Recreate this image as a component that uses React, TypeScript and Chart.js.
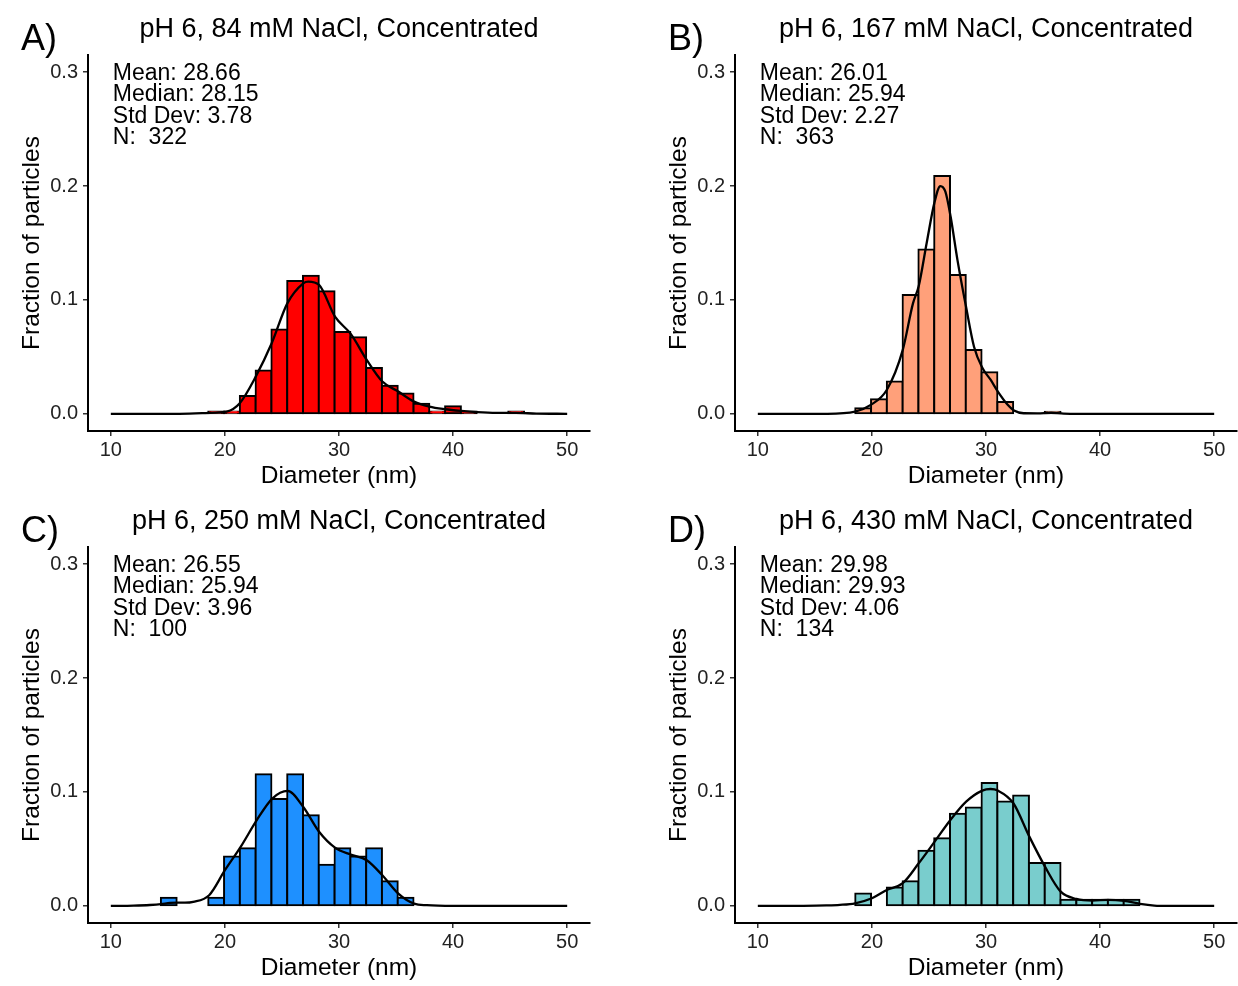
import { useEffect, useRef } from "react";
import { Chart, registerables } from "chart.js";

Chart.register(...registerables);

const FONT = '"Liberation Sans", Arial, Helvetica, sans-serif';

// Shared histogram bin centres (nm), bin width ~1.384 nm
const BIN_CENTERS = [
  15.08, 16.464, 17.848, 19.232, 20.616, 22.0, 23.384, 24.768, 26.152, 27.536, 28.92, 30.304,
  31.688, 33.072, 34.456, 35.84, 37.224, 38.608, 39.992, 41.376, 42.76, 44.144, 45.528,
];

// Fraction of particles per bin
const FRAC_A = [
  0, 0, 0, 0.0022, 0.0022, 0.0157, 0.0381, 0.0741, 0.1167, 0.1212, 0.1077, 0.0718, 0.0673,
  0.0404, 0.0247, 0.018, 0.009, 0.0022, 0.0067, 0.0022, 0, 0, 0.0022,
];
const FRAC_B = [
  0, 0, 0, 0.005, 0.0129, 0.0284, 0.1044, 0.1444, 0.2088, 0.1219, 0.0561, 0.0365, 0.0105, 0, 0,
  0.002,
];
const FRAC_C = [
  0.0072, 0, 0, 0.0072, 0.0434, 0.0506, 0.1156, 0.0939, 0.1156, 0.0795, 0.0361, 0.0506, 0.0434,
  0.0506, 0.0217, 0.0072,
];
const FRAC_D = [
  0, 0, 0, 0.0108, 0, 0.0162, 0.0216, 0.0485, 0.0593, 0.0809, 0.0863, 0.1078, 0.0917, 0.097,
  0.0377, 0.0377, 0.0054, 0.0054, 0.0054, 0.0054, 0.0054,
];

// Smoothed density curves (x in nm, y in fraction)
const CURVE_A_X = [10, 16, 18, 19.2, 20.15, 21.3, 22.7, 24.1, 25.47, 26.87, 27.3, 28.25, 29.65, 31.03, 32.43, 33.8, 35.2, 36.58, 37.92, 39.3, 40.7, 42.1, 43.8, 45.5, 47.3, 50];
const CURVE_A_Y = [0, 0.0001, 0.0006, 0.0012, 0.002, 0.0094, 0.0327, 0.062, 0.097, 0.1146, 0.1161, 0.1132, 0.0854, 0.0702, 0.0474, 0.0284, 0.0196, 0.0108, 0.0064, 0.0041, 0.0026, 0.0015, 0.0009, 0.0009, 0.0003, 0.0001];

const CURVE_B_X = [10, 16, 18.53, 19.9, 21.3, 22.7, 23.6, 24.1, 24.8, 25.47, 26.0, 26.44, 26.9, 27.5, 28.25, 28.95, 29.7, 30.4, 31.04, 31.9, 32.45, 33.3, 34.5, 35.7, 36.8, 40, 50];
const CURVE_B_Y = [0, 0.0001, 0.002, 0.0079, 0.021, 0.056, 0.097, 0.112, 0.15, 0.185, 0.2, 0.195, 0.173, 0.135, 0.094, 0.059, 0.04, 0.03, 0.0196, 0.008, 0.003, 0.0006, 0.0005, 0.001, 0.0003, 0, 0];

const CURVE_C_X = [10, 12, 13.42, 14.39, 15.18, 15.85, 16.5, 17.22, 18.62, 20.0, 21.38, 22.78, 24.15, 25.5, 26.87, 28.27, 29.65, 31.03, 32.43, 33.8, 35.2, 36.58, 37.7, 40, 50];
const CURVE_C_Y = [0, 0.0003, 0.0008, 0.0015, 0.0026, 0.0028, 0.0028, 0.0035, 0.0094, 0.0313, 0.0518, 0.0751, 0.0942, 0.1009, 0.0868, 0.0649, 0.0512, 0.045, 0.0401, 0.0269, 0.0108, 0.002, 0.0006, 0, 0];

const CURVE_D_X = [10, 14, 16, 17.2, 18.53, 20.0, 21.3, 22.7, 24.1, 25.5, 26.88, 28.26, 29.67, 30.4, 31.04, 32.4, 33.8, 35.17, 36.55, 37.93, 39.33, 40.7, 42.1, 43.5, 44.75, 46, 50];
const CURVE_D_Y = [0, 0.0001, 0.0004, 0.0009, 0.0023, 0.0067, 0.014, 0.0199, 0.0374, 0.0564, 0.0754, 0.0915, 0.1012, 0.1026, 0.1012, 0.0901, 0.0608, 0.0345, 0.0125, 0.0061, 0.0047, 0.0053, 0.0044, 0.0018, 0.0003, 0, 0];

const X_TICKS = [10, 20, 30, 40, 50];
const Y_TICKS = [0, 0.1, 0.2, 0.3];

const STATS_A = ["Mean: 28.66", "Median: 28.15", "Std Dev: 3.78", "N:  322"];
const STATS_B = ["Mean: 26.01", "Median: 25.94", "Std Dev: 2.27", "N:  363"];
const STATS_C = ["Mean: 26.55", "Median: 25.94", "Std Dev: 3.96", "N:  100"];
const STATS_D = ["Mean: 29.98", "Median: 29.93", "Std Dev: 4.06", "N:  134"];

const PANELS = [
  { letter: "A)", title: "pH 6, 84 mM NaCl, Concentrated", stats: STATS_A, color: "#FF0000", values: FRAC_A, cx: CURVE_A_X, cy: CURVE_A_Y, left: 0, top: 0 },
  { letter: "B)", title: "pH 6, 167 mM NaCl, Concentrated", stats: STATS_B, color: "#FFA07A", values: FRAC_B, cx: CURVE_B_X, cy: CURVE_B_Y, left: 647, top: 0 },
  { letter: "C)", title: "pH 6, 250 mM NaCl, Concentrated", stats: STATS_C, color: "#1E90FF", values: FRAC_C, cx: CURVE_C_X, cy: CURVE_C_Y, left: 0, top: 492 },
  { letter: "D)", title: "pH 6, 430 mM NaCl, Concentrated", stats: STATS_D, color: "#79CDCD", values: FRAC_D, cx: CURVE_D_X, cy: CURVE_D_Y, left: 647, top: 492 },
];

const panelTextPlugin = {
  id: "panelText",
  afterDraw(chart: any, _args: any, opts: any) {
    const { ctx, chartArea, scales } = chart;
    const midX = (chartArea.left + chartArea.right) / 2;
    const midY = (chartArea.top + chartArea.bottom) / 2;
    ctx.save();
    ctx.fillStyle = "#000";
    ctx.textBaseline = "alphabetic";

    ctx.font = `36px ${FONT}`;
    ctx.textAlign = "left";
    ctx.fillText(opts.letter, 21, 50);

    ctx.font = `27px ${FONT}`;
    ctx.textAlign = "center";
    ctx.fillText(opts.title, midX, 37);

    ctx.font = `23px ${FONT}`;
    ctx.textAlign = "left";
    const sx = scales.x.getPixelForValue(10) + 2;
    const sy = scales.y.getPixelForValue(0.3) + 8;
    opts.stats.forEach((s: string, i: number) => ctx.fillText(s, sx, sy + i * 21.3));

    ctx.font = `24.5px ${FONT}`;
    ctx.textAlign = "center";
    ctx.fillText("Diameter (nm)", midX, 483);

    ctx.translate(38.5, midY);
    ctx.rotate(-Math.PI / 2);
    ctx.fillText("Fraction of particles", 0, 0);
    ctx.restore();
  },
};

function Panel({ spec }: { spec: (typeof PANELS)[number] }) {
  const ref = useRef<HTMLCanvasElement | null>(null);

  useEffect(() => {
    if (!ref.current) return;
    const bars = BIN_CENTERS.map((x, i) => ({
      x,
      y: spec.values[i] ? spec.values[i] : null,
    }));
    const curve = spec.cx.map((x, i) => ({ x, y: spec.cy[i] }));
    const axisCommon = {
      grid: {
        display: true,
        drawOnChartArea: false,
        drawTicks: true,
        tickLength: 5,
        color: "#333",
        lineWidth: 1.5,
        offset: false,
      },
      border: { display: true, color: "#000", width: 2 },
    };
    const chart = new Chart(ref.current, {
      type: "bar",
      data: {
        datasets: [
          {
            type: "line",
            data: curve,
            borderColor: "#000",
            borderWidth: 2.3,
            pointRadius: 0,
            fill: false,
            cubicInterpolationMode: "monotone",
            order: 0,
          } as any,
          {
            type: "bar",
            data: bars,
            backgroundColor: spec.color,
            borderColor: "#000",
            borderWidth: 2,
            inflateAmount: 1,
            borderSkipped: false,
            barPercentage: 1,
            categoryPercentage: 1,
            order: 1,
          } as any,
        ],
      },
      options: {
        responsive: false,
        animation: false,
        devicePixelRatio: 1,
        layout: { padding: { top: 55, right: 5, left: 0, bottom: 0 } },
        plugins: {
          legend: { display: false },
          tooltip: { enabled: false },
          title: { display: false },
          panelText: { letter: spec.letter, title: spec.title, stats: spec.stats },
        } as any,
        scales: {
          x: {
            type: "linear",
            min: 8,
            max: 52,
            offset: false,
            afterBuildTicks: (s: any) => {
              s.ticks = X_TICKS.map((v) => ({ value: v }));
            },
            afterFit: (s: any) => {
              s.height = 61;
            },
            ticks: {
              font: { size: 20, family: FONT },
              color: "#222",
              padding: 2,
              maxRotation: 0,
              autoSkip: false,
              callback: (v: any) => String(v),
            },
            ...axisCommon,
          },
          y: {
            type: "linear",
            min: -0.015,
            max: 0.315,
            afterBuildTicks: (s: any) => {
              s.ticks = Y_TICKS.map((v) => ({ value: v }));
            },
            afterFit: (s: any) => {
              s.width = 88;
            },
            ticks: {
              font: { size: 20, family: FONT },
              color: "#222",
              padding: 5,
              callback: (v: any) => Number(v).toFixed(1),
            },
            ...axisCommon,
          },
        } as any,
      },
      plugins: [panelTextPlugin],
    });
    return () => chart.destroy();
  }, [spec]);

  return (
    <canvas
      ref={ref}
      width={595}
      height={492}
      style={{ position: "absolute", left: spec.left, top: spec.top, width: 595, height: 492 }}
    />
  );
}

export default function App() {
  return (
    <div
      style={{
        position: "absolute",
        left: 0,
        top: 0,
        width: 1238,
        height: 986,
        overflow: "hidden",
        background: "#fff",
      }}
    >
      {PANELS.map((p) => (
        <Panel key={p.letter} spec={p} />
      ))}
    </div>
  );
}
